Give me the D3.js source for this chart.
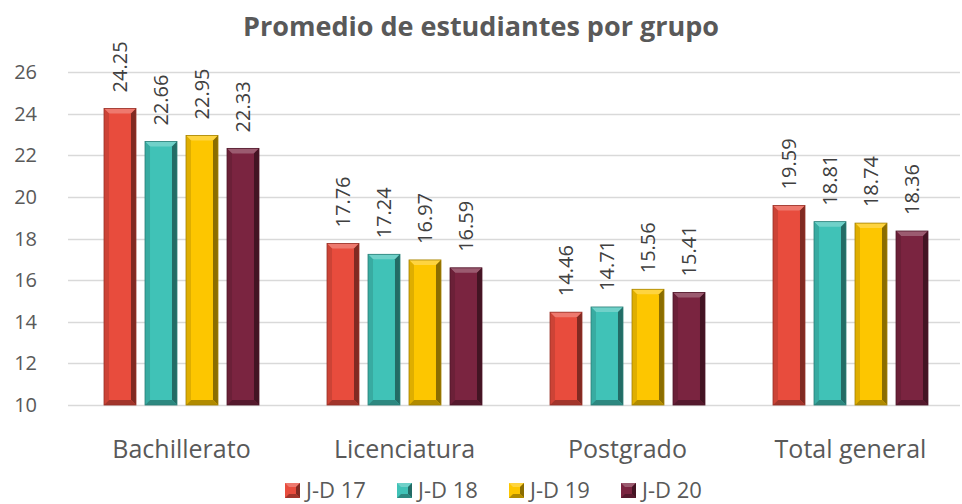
<!DOCTYPE html>
<html>
<head>
<meta charset="utf-8">
<script src="https://cdn.jsdelivr.net/npm/d3@7"></script>
<style>
  body { margin: 0; background: #fff; }
  text { font-family: "Open Sans", sans-serif; }
</style>
</head>
<body>
<div id="chart"></div>
<script>
const categories = ["Bachillerato", "Licenciatura", "Postgrado", "Total general"]
const series = ["J-D 17", "J-D 18", "J-D 19", "J-D 20"]
const jd17 = [24.25, 17.76, 14.46, 19.59]
const jd18 = [22.66, 17.24, 14.71, 18.81]
const jd19 = [22.95, 16.97, 15.56, 18.74]
const jd20 = [22.33, 16.59, 15.41, 18.36]
const yTicks = [10, 12, 14, 16, 18, 20, 22, 24, 26]
const colors = ["#e84c3d", "#40c2b7", "#fdc600", "#7a2440"]

const values = [jd17, jd18, jd19, jd20]

const width = 962, height = 504
const svg = d3.select("#chart").append("svg")
    .attr("width", width)
    .attr("height", height)

const x0 = d3.scaleBand()
    .domain(categories)
    .range([70, 962])
    .paddingInner(0.305)
    .paddingOuter(0.1525)

const x1 = d3.scaleBand()
    .domain(series)
    .range([0, x0.bandwidth()])
    .paddingInner(0.22)

const y = d3.scaleLinear()
    .domain([10, 26])
    .range([405, 72])

// title
svg.append("text")
    .attr("x", 481)
    .attr("y", 36)
    .attr("text-anchor", "middle")
    .style("font-size", "27px")
    .style("font-weight", "bold")
    .style("fill", "#595959")
    .text("Promedio de estudiantes por grupo")

// grid
svg.append("g")
    .selectAll("line")
    .data(yTicks)
    .join("line")
    .attr("x1", 68)
    .attr("x2", 960)
    .attr("y1", d => Math.round(y(d)) + 0.5)
    .attr("y2", d => Math.round(y(d)) + 0.5)
    .style("stroke", "#d9d9d9")
    .style("stroke-width", 1.3)

// y axis labels
svg.append("g")
    .selectAll("text")
    .data(yTicks)
    .join("text")
    .attr("x", 37)
    .attr("y", d => y(d) + 7)
    .attr("text-anchor", "end")
    .style("font-size", "20px")
    .style("fill", "#595959")
    .text(d => d)

// bevelled bars
const shade = (c, k) => k > 0 ? d3.interpolateRgb(c, "#fff")(k) : d3.interpolateRgb(c, "#000")(-k)
const bv = 5

const rows = []
categories.forEach((cat, i) => {
    series.forEach((s, j) => {
        rows.push({cat, s, j, v: values[j][i]})
    })
})

const bars = svg.append("g")
    .selectAll("g")
    .data(rows)
    .join("g")
    .attr("transform", d => `translate(${x0(d.cat) + x1(d.s)},${y(d.v)})`)

bars.each(function (d) {
    const g = d3.select(this)
    const w = x1.bandwidth()
    const h = y(10) - y(d.v)
    const c = colors[d.j]
    g.append("rect").attr("width", w).attr("height", h).style("fill", c)
    // top
    g.append("polygon").attr("points", `0,0 ${w},0 ${w - bv},${bv} ${bv},${bv}`).style("fill", shade(c, 0.25))
    // left
    g.append("polygon").attr("points", `0,0 ${bv},${bv} ${bv},${h - bv} 0,${h}`).style("fill", shade(c, -0.12))
    // right
    g.append("polygon").attr("points", `${w},0 ${w},${h} ${w - bv},${h - bv} ${w - bv},${bv}`).style("fill", shade(c, -0.45))
    // bottom
    g.append("polygon").attr("points", `0,${h} ${bv},${h - bv} ${w - bv},${h - bv} ${w},${h}`).style("fill", shade(c, -0.3))
    g.append("rect").attr("width", w).attr("height", h)
        .style("fill", "none").style("stroke", shade(c, -0.35)).style("stroke-width", 0.8)
})

// value labels
svg.append("g")
    .selectAll("text")
    .data(rows)
    .join("text")
    .attr("transform", d => `translate(${x0(d.cat) + x1(d.s) + x1.bandwidth() / 2 + 7},${y(d.v) - 16}) rotate(-90)`)
    .style("font-size", "20px")
    .style("fill", "#404040")
    .text(d => d.v.toFixed(2))

// category labels
svg.append("g")
    .selectAll("text")
    .data(categories)
    .join("text")
    .attr("x", d => x0(d) + x0.bandwidth() / 2)
    .attr("y", 458)
    .attr("text-anchor", "middle")
    .style("font-size", "25px")
    .style("fill", "#595959")
    .text(d => d)

// legend
const leg = svg.append("g")
    .selectAll("g")
    .data(series)
    .join("g")
    .attr("transform", (d, i) => `translate(${285 + i * 112},483)`)

leg.each(function (d, i) {
    const g = d3.select(this)
    const c = colors[i], s = 15, b = 4
    g.append("rect").attr("width", s).attr("height", s).style("fill", c)
    g.append("polygon").attr("points", `0,0 ${s},0 ${s - b},${b} ${b},${b}`).style("fill", shade(c, 0.25))
    g.append("polygon").attr("points", `${s},0 ${s},${s} ${s - b},${s - b} ${s - b},${b}`).style("fill", shade(c, -0.45))
    g.append("polygon").attr("points", `0,${s} ${b},${s - b} ${s - b},${s - b} ${s},${s}`).style("fill", shade(c, -0.3))
    g.append("text")
        .attr("x", 21)
        .attr("y", 15)
        .style("font-size", "22px")
        .style("fill", "#595959")
        .text(d)
})
</script>
</body>
</html>
